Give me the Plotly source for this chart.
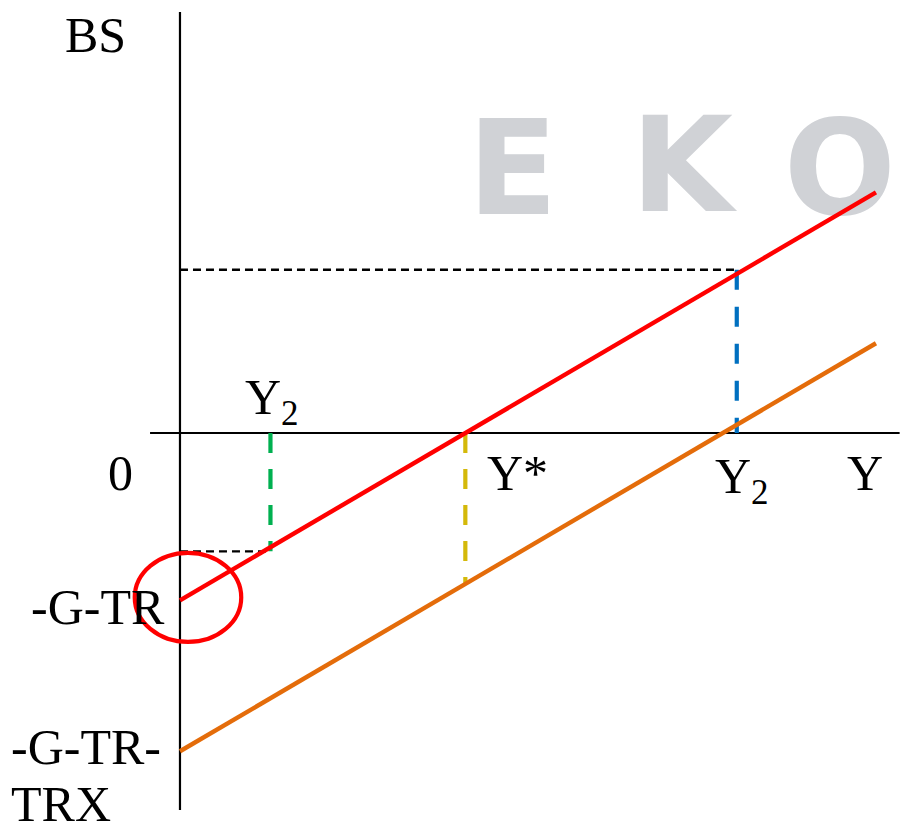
import plotly.graph_objects as go

# Income axis (Y) and budget-surplus (BS) values for the two budget lines
income = [0, 100]
bs_initial = [-41, 59]      # -G-TR + t*Y
bs_lowered = [-78, 22]      # -G-TR-TRX + t*Y

y_star = 41                 # balanced-budget income
y2_low = 13                 # income below Y*
bs_y2_low = -29
y2_high = 80                # income above Y*
bs_y2_high = 40
bs_lowered_at_ystar = -37

# extents of the drawn axes
axis_y_top, axis_y_bottom = 103.2, -92.4
axis_x_left, axis_x_right = -4.3, 103.4

SERIF = "Liberation Serif"
FS = 50

fig = go.Figure()

# faded logo behind the diagram
logo_letters = ["E", "K", "O"]
logo_x = [47.8, 72.1, 94.8]
logo_y = [61.8, 62.6, 61.8]
fig.add_trace(go.Scatter(
    x=logo_x, y=logo_y, mode="text", text=logo_letters,
    textfont=dict(family="DejaVu Sans", size=132, color="#D0D2D6", weight="bold"),
    hoverinfo="skip", showlegend=False,
))

def seg(xs, ys, color, width, dash="solid"):
    fig.add_trace(go.Scatter(
        x=xs, y=ys, mode="lines",
        line=dict(color=color, width=width, dash=dash),
        hoverinfo="skip", showlegend=False,
    ))

# axes
seg([0, 0], [axis_y_top, axis_y_bottom], "black", 2.2)
seg([axis_x_left, axis_x_right], [0, 0], "black", 2.2)

# guide lines
seg([0, y2_high], [bs_y2_high, bs_y2_high], "black", 2.4, "8px,5px")
seg([y2_high, y2_high], [bs_y2_high, 0], "#0070C0", 4.2, "20px,17px")
seg([0, y2_low], [bs_y2_low, bs_y2_low], "black", 2.4, "8px,5px")
seg([y2_low, y2_low], [0, bs_y2_low], "#00B050", 4.2, "20px,16px")
seg([y_star, y_star], [0, bs_lowered_at_ystar], "#D4B90A", 4.2, "20px,16px")

# budget lines
seg(income, bs_initial, "#FF0000", 4.4)
seg(income, bs_lowered, "#E46C0A", 4.4)

# highlight around the vertical intercept
fig.add_shape(type="circle", xref="x", yref="y",
              x0=-6.5, x1=8.8, y0=-51.2, y1=-29.4,
              line=dict(color="#FF0000", width=4.2))

def label(text, x, y, xanchor="center", yanchor="middle"):
    fig.add_annotation(x=x, y=y, xref="x", yref="y", text=text, showarrow=False,
                       xanchor=xanchor, yanchor=yanchor,
                       font=dict(family=SERIF, size=FS, color="black"))

label("BS", -12.1, 97.5)
label("0", -8.6, -9.7)
label("Y*", 43.8, -9.8, xanchor="left")
label("Y<sub>2</sub>", 76.6, -11.4, xanchor="left")
label("Y", 98.4, -9.8)
label("Y<sub>2</sub>", 9.0, 7.8, xanchor="left")
label("-G-TR", -1.9, -42.7, xanchor="right")
label("-G-TR-", -24.5, -77.0, xanchor="left")
label("TRX", -24.5, -90.9, xanchor="left")

fig.update_layout(
    width=902, height=824,
    margin=dict(l=0, r=0, t=0, b=0),
    paper_bgcolor="white", plot_bgcolor="white",
    xaxis=dict(range=[-25.86, 103.74], visible=False, fixedrange=True),
    yaxis=dict(range=[-95.83, 106.13], visible=False, fixedrange=True),
    showlegend=False,
)

fig.write_html("out.html")
